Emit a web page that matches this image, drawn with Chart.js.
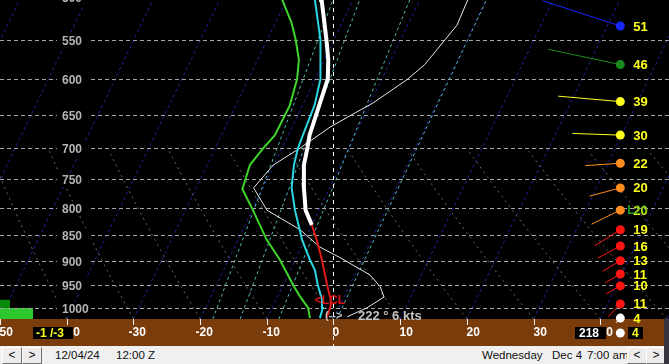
<!DOCTYPE html>
<html>
<head>
<meta charset="utf-8">
<script src="https://cdn.jsdelivr.net/npm/chart.js@4.4.1/dist/chart.umd.min.js"></script>
<style>
  html, body { margin: 0; padding: 0; background: #000; overflow: hidden; }
  #wrap { position: relative; width: 669px; height: 364px; }
  canvas { display: block; }
  #bar { position: absolute; left: 0; top: 346px; width: 669px; height: 18px; background: #f0f0f0;
         font: 11.5px Arial, "Liberation Sans", sans-serif; color: #111; }
  #bar span { position: absolute; top: 3px; white-space: pre; }
  .btn { position: absolute; top: 1px; width: 18px; height: 15px; background: #ececec;
         border-top: 1px solid #fff; border-left: 1px solid #fff;
         border-right: 1px solid #707070; border-bottom: 1px solid #707070;
         text-align: center; line-height: 14px; font-size: 12px; }
  #edge { position: absolute; left: 664px; top: 319px; width: 5px; height: 45px; background: #34343f; }
</style>
</head>
<body>
<div id="wrap">
  <canvas id="skewt" width="669" height="346"></canvas>
  <div id="bar">
    <div class="btn" style="left:2px">&lt;</div>
    <div class="btn" style="left:22px">&gt;</div>
    <span style="left:55px">12/04/24</span>
    <span style="left:116px">12:00 Z</span>
    <span style="left:482px">Wednesday</span>
    <span style="left:552px">Dec 4</span>
    <span style="left:587px">7:00 am</span>
    <div class="btn" style="left:627px">&lt;</div>
    <div class="btn" style="left:646px">&gt;</div>
  </div>
  <div id="edge"></div>
</div>
<script>
// diagram frame
const P_BOT = 1025, P_TOP = 503;
const SKEW = 32.2;      // deg C added per ln(p) unit
const WIND_X = 43;      // column where the wind dots sit

const pressureTicks = [500, 550, 600, 650, 700, 750, 800, 850, 900, 950, 1000];
const tempTicks = [-50, -40, -30, -20, -10, 0, 10, 20, 30, 40, 50];
const isotherms = [-70, -60, -50, -40, -30, -20, -10, 0, 10, 20, 30, 40, 50];
const adiabatBases = [-50, -40, -30, -20, -10, 0, 10, 20, 30, 40, 50, 60, 70];
const mixBotT = [-18.1, -14.0, -8.2, 0.5];
const mixTopT = [-23.0, -19.0, -11.5, 0.0];

// profiles (hPa, deg C)
const dewP = [1023, 1000, 974, 950, 898, 859, 804, 767, 727, 700, 680, 636, 600, 575, 550, 529, 503, 495];
const dewT = [-3.6, -4.6, -6.7, -8.5, -12.3, -15.7, -19.9, -23.0, -23.6, -22.8, -22.0, -21.9, -22.7, -23.8, -25.7, -27.6, -30.6, -31.5];

const wetP = [1023, 1000, 982, 950, 919, 898, 859, 804, 765, 727, 700, 680, 636, 600, 550, 503, 495];
const wetT = [-2.1, -2.4, -3.1, -4.8, -6.3, -7.8, -10.4, -13.6, -15.7, -17.0, -17.6, -17.8, -18.2, -19.2, -22.0, -25.7, -26.4];

const tempP = [831, 804, 760, 727, 700, 680, 636, 600, 575, 550, 503, 495];
const tempT = [-10.0, -12.0, -14.1, -15.5, -16.2, -16.8, -17.5, -18.1, -19.4, -21.1, -24.7, -25.3];

const lowP = [1023, 993, 982, 950, 898, 859, 831];
const lowT = [-1.1, -1.4, -1.8, -3.4, -6.0, -8.2, -10.0];

const thinP = [1020, 1000, 976, 954, 929, 894, 873, 840, 804, 765, 727, 700, 668, 651, 633, 601, 581, 532, 503, 490];
const thinT = [1.9, 4.2, 6.0, 4.7, 2.3, -3.4, -7.2, -11.4, -17.8, -21.4, -20.1, -17.3, -14.3, -12.1, -9.6, -6.2, -4.6, -2.6, -2.8, -3.0];

// winds
const windP = [533, 581, 631, 680, 724, 765, 804, 840, 871, 900, 927, 952, 991, 1023];
const windDir = [288, 282, 275, 272, 266, 255, 244, 238, 242, 239, 240, 241, 223, 222];
const windSpd = [51, 46, 39, 30, 22, 20, 20, 19, 16, 13, 11, 10, 11, 4];

const skewX = (t, p) => t + SKEW * Math.log(P_BOT / p);
const pts = (ps, ts) => ps.map((p, i) => ({ x: skewX(ts[i], p), y: p }));

function speedColor(s) {
  if (s >= 50) return '#1428ff';
  if (s >= 40) return '#1b8c1b';
  if (s >= 30) return '#ffff1e';
  if (s >= 20) return '#ff8c1e';
  if (s >= 10) return '#ff1414';
  return '#ffffff';
}

const backdrop = {
  id: 'backdrop',
  beforeDraw(chart) {
    const { ctx, chartArea: a, scales: { x, y } } = chart;
    ctx.save();
    ctx.fillStyle = '#7a3c0a';
    ctx.fillRect(0, 0, chart.width, chart.height);
    ctx.fillStyle = '#000';
    ctx.fillRect(a.left, a.top, a.right - a.left, a.bottom - a.top);
    ctx.beginPath();
    ctx.rect(a.left, a.top, a.right - a.left, a.bottom - a.top);
    ctx.clip();
    ctx.lineWidth = 1;

    // isotherms
    ctx.setLineDash([3, 3]);
    ctx.strokeStyle = '#22229c';
    isotherms.forEach(t => {
      ctx.beginPath();
      ctx.moveTo(x.getPixelForValue(skewX(t, P_BOT)), y.getPixelForValue(P_BOT));
      ctx.lineTo(x.getPixelForValue(skewX(t, 490)), y.getPixelForValue(490));
      ctx.stroke();
    });

    // dry adiabats, lower part only
    ctx.setLineDash([2, 4]);
    ctx.strokeStyle = '#6e6e6e';
    adiabatBases.forEach(t0 => {
      ctx.beginPath();
      for (let p = P_BOT; p >= 705; p -= 5) {
        const t = (t0 + 273.15) * Math.pow(p / P_BOT, 0.2857) - 273.15;
        const px = x.getPixelForValue(skewX(t, p)), py = y.getPixelForValue(p);
        if (p === P_BOT) ctx.moveTo(px, py); else ctx.lineTo(px, py);
      }
      ctx.stroke();
    });

    // mixing ratio lines
    ctx.setLineDash([3, 3]);
    ctx.strokeStyle = '#52b8b8';
    mixBotT.forEach((tb, i) => {
      ctx.beginPath();
      ctx.moveTo(x.getPixelForValue(skewX(tb, P_BOT)), y.getPixelForValue(P_BOT));
      ctx.lineTo(x.getPixelForValue(skewX(mixTopT[i], P_TOP)), y.getPixelForValue(P_TOP));
      ctx.stroke();
    });
    ctx.restore();
  },
  beforeDatasetsDraw(chart) {
    const { ctx, chartArea: a, scales: { x, y } } = chart;
    ctx.save();
    // small green blocks at lower left
    ctx.fillStyle = '#0a8a0a';
    ctx.fillRect(0, y.getPixelForValue(982), 10, y.getPixelForValue(1000) - y.getPixelForValue(982));
    ctx.fillStyle = '#2ec82e';
    ctx.fillRect(0, y.getPixelForValue(1000), 33, a.bottom - y.getPixelForValue(1000));

    // pressure lines and labels
    ctx.lineWidth = 1;
    ctx.setLineDash([4, 3]);
    ctx.strokeStyle = '#a6a6a6';
    ctx.font = 'bold 12px Arial';
    ctx.textBaseline = 'middle';
    pressureTicks.forEach(p => {
      const py = Math.round(y.getPixelForValue(p)) + 0.5;
      ctx.beginPath();
      ctx.moveTo(a.left, py);
      ctx.lineTo(a.right, py);
      ctx.stroke();
      ctx.fillStyle = '#000';
      ctx.fillRect(57, py - 7, 34, 14);
      ctx.fillStyle = '#b4b4b4';
      ctx.fillText(String(p), 62, py + 1);
    });

    // vertical 0 line
    ctx.strokeStyle = '#ffffff';
    ctx.setLineDash([4, 4]);
    const zx = Math.round(x.getPixelForValue(0)) + 0.5;
    ctx.beginPath();
    ctx.moveTo(zx, 0);
    ctx.lineTo(zx, chart.height);
    ctx.stroke();

    // wind lines
    ctx.setLineDash([]);
    windP.forEach((p, i) => {
      const px = x.getPixelForValue(WIND_X), py = y.getPixelForValue(p);
      const len = windSpd[i] * 1.6, d = windDir[i] * Math.PI / 180;
      ctx.strokeStyle = speedColor(windSpd[i]);
      ctx.beginPath();
      ctx.moveTo(px, py);
      ctx.lineTo(px + Math.sin(d) * len, py - Math.cos(d) * len);
      ctx.stroke();
    });
    ctx.restore();
  },
  afterDraw(chart) {
    const { ctx, chartArea: a, scales: { x, y } } = chart;
    ctx.save();
    // ticks and labels on the brown strip
    ctx.strokeStyle = '#f0f0f0';
    ctx.lineWidth = 1;
    ctx.font = 'bold 12px Arial';
    ctx.textBaseline = 'middle';
    ctx.fillStyle = '#ffffff';
    tempTicks.forEach(t => {
      const px = Math.round(x.getPixelForValue(t)) + 0.5;
      ctx.beginPath();
      ctx.moveTo(px, a.bottom);
      ctx.lineTo(px, a.bottom + 6);
      ctx.stroke();
      const label = String(t);
      const minus = t < 0 ? ctx.measureText('-').width : 0;
      ctx.fillText(label, px - 1 - minus, a.bottom + 14);
    });

    // surface boxes
    const boxY = a.bottom + 8;
    ctx.fillStyle = '#000';
    ctx.fillRect(33, boxY, 40, 12);
    ctx.fillStyle = '#ffff1e';
    ctx.fillText('-1 /-3', 36, boxY + 6.5);
    ctx.fillStyle = '#000';
    ctx.fillRect(575, boxY, 31, 12);
    ctx.fillStyle = '#ffffff';
    ctx.fillText('218', 579, boxY + 6.5);
    const wx = x.getPixelForValue(WIND_X);
    ctx.beginPath();
    ctx.arc(wx, a.bottom + 14, 4.5, 0, Math.PI * 2);
    ctx.fill();
    ctx.fillStyle = '#000';
    ctx.fillRect(628, boxY, 15, 12);
    ctx.fillStyle = '#ffff1e';
    ctx.fillText('4', 632, boxY + 6.5);
    ctx.restore();
  },
  afterDatasetsDraw(chart) {
    const { ctx, scales: { x, y } } = chart;
    ctx.save();
    ctx.textBaseline = 'middle';
    ctx.font = 'bold 13px Arial';
    windP.forEach((p, i) => {
      const px = x.getPixelForValue(WIND_X), py = y.getPixelForValue(p);
      ctx.fillStyle = '#ffff1e';
      ctx.fillText(String(windSpd[i]), px + 13, py + 1);
      if (i === 6) {
        ctx.fillStyle = '#1fa01f';
        ctx.font = 'bold 12px Arial';
        ctx.fillText('L', px + 7, py + 1);
        ctx.globalAlpha = 0.6;
        ctx.fillText('20', px + 14, py + 1);
        ctx.globalAlpha = 1;
        ctx.font = 'bold 13px Arial';
      }
    });
    // LCL marker
    ctx.fillStyle = '#e01414';
    ctx.font = 'bold 12px Arial';
    ctx.fillText('<LCL', x.getPixelForValue(-2.8), y.getPixelForValue(983));
    // surface wind text
    ctx.fillStyle = '#c4c4c4';
    ctx.font = 'bold 11px Arial';
    ctx.fillText('(-->', 325, 316);
    ctx.font = 'bold 13px Arial';
    ctx.fillText('222 \u00b0 6 kts', 358, 316);
    ctx.restore();
  }
};

new Chart(document.getElementById('skewt'), {
  type: 'scatter',
  data: {
    datasets: [
      { label: 'Wind', data: windP.map(p => ({ x: WIND_X, y: p })), showLine: false, clip: false,
        pointRadius: 4.5, pointBorderWidth: 0, pointBackgroundColor: windSpd.map(speedColor) },
      { label: 'Low level', data: pts(lowP, lowT), showLine: true, borderColor: '#e01818', borderWidth: 2, pointRadius: 0 },
      { label: 'Temperature', data: pts(tempP, tempT), showLine: true, borderColor: '#ffffff', borderWidth: 4, pointRadius: 0 },
      { label: 'Wet bulb', data: pts(wetP, wetT), showLine: true, borderColor: '#2ad6e2', borderWidth: 2, pointRadius: 0 },
      { label: 'Dewpoint', data: pts(dewP, dewT), showLine: true, borderColor: '#3ed42a', borderWidth: 2, pointRadius: 0 },
      { label: 'Other', data: pts(thinP, thinT), showLine: true, borderColor: '#e6e6e6', borderWidth: 1, pointRadius: 0 }
    ]
  },
  options: {
    responsive: false,
    animation: false,
    devicePixelRatio: 1,
    layout: { autoPadding: false, padding: { left: 0, right: 0, top: 0, bottom: 27 } },
    plugins: { legend: { display: false }, tooltip: { enabled: false } },
    scales: {
      x: { type: 'linear', min: -50, max: 50.3, display: false },
      y: { type: 'logarithmic', min: P_TOP, max: P_BOT, reverse: true, display: false }
    }
  },
  plugins: [backdrop]
});
</script>
</body>
</html>
